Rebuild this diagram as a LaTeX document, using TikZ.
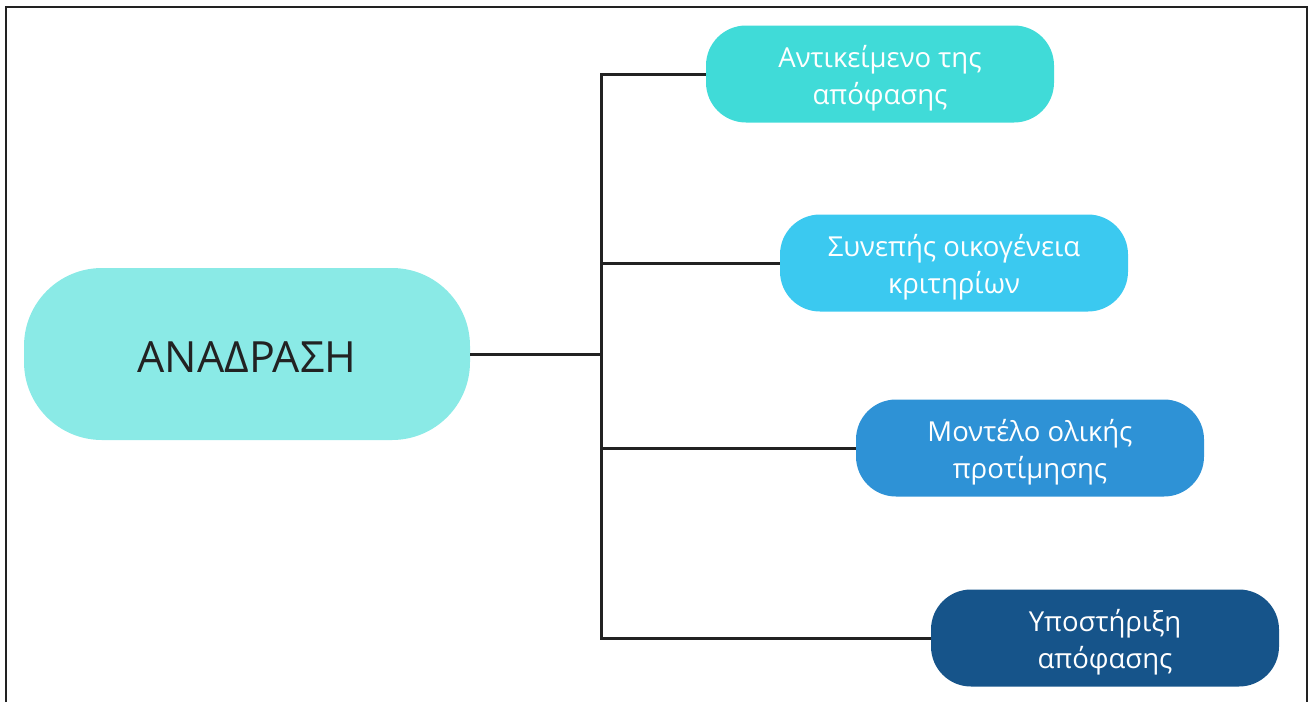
\documentclass[tikz,border=0pt]{standalone}
\usepackage{fontspec}
\setmainfont{Open Sans}
\usetikzlibrary{positioning}

\definecolor{hubcyan}{RGB}{138,234,230}
\definecolor{leafA}{RGB}{64,219,216}
\definecolor{leafB}{RGB}{59,201,240}
\definecolor{leafC}{RGB}{46,146,214}
\definecolor{leafD}{RGB}{22,84,138}
\definecolor{inkline}{RGB}{34,34,34}

\tikzset{
  hub/.style={fill=hubcyan, rounded corners=78pt,
    minimum width=446pt, minimum height=172pt, inner sep=0pt},
  hubtext/.style={text=inkline, yshift=-3pt, font=\fontsize{43}{50}\selectfont},
  leaf/.style={rounded corners=40pt,
    minimum width=348pt, minimum height=97pt, inner sep=0pt},
  leaftext/.style={text=white, align=center, yshift=-4pt,
    font=\fontsize{27.5}{37}\selectfont},
  branch/.style={draw=inkline, line width=3pt}
}

\begin{document}
\begin{tikzpicture}[x=1pt,y=-1pt]
\useasboundingbox (0,0) rectangle (1309,702);
% the frame, open at the bottom
\draw[inkline, line width=2.5pt] (6,702) -- (6,7) -- (1307,7) -- (1307,702);

% the nodes
\node[hub, label={[hubtext]center:ΑΝΑΔΡΑΣΗ}] (feedback) at (247,354) {};
\node[leaf, fill=leafA, label={[leaftext]center:Αντικείμενο της\\απόφασης}] (object) at (880,74) {};
\node[leaf, fill=leafB, label={[leaftext]center:Συνεπής οικογένεια\\κριτηρίων}] (criteria) at (954,263) {};
\node[leaf, fill=leafC, label={[leaftext]center:Μοντέλο ολικής\\προτίμησης}] (model) at (1030,448) {};
\node[leaf, fill=leafD, label={[leaftext]center:Υποστήριξη\\απόφασης}] (support) at (1105,638) {};

\coordinate (spine) at (601,354);

% the connectors
\draw[branch] (feedback) -- (spine);
\draw[branch] (object) -- (object -| spine) -- (support -| spine) -- (support);
\draw[branch] (criteria -| spine) -- (criteria);
\draw[branch] (model -| spine) -- (model);

\end{tikzpicture}
\end{document}
